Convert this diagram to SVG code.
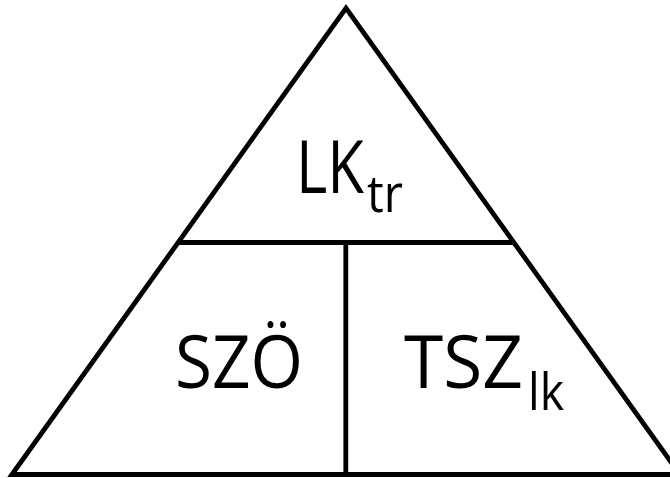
<svg xmlns="http://www.w3.org/2000/svg" width="670" height="478" viewBox="0 0 670 478">
<style>
.ln{fill:none;stroke:#000;stroke-width:4.8;stroke-linejoin:miter}
.t{font-family:"Open Sans","Noto Sans",sans-serif;fill:#000;font-weight:500}
.m{font-size:73px}
.s{font-size:51px}
</style>
<rect width="670" height="478" fill="#fff"/>
<g id="connectors">
<polygon class="ln" points="12,474.5 346,8 680,474.5"/>
<line class="ln" x1="178" y1="242.5" x2="514" y2="242.5"/>
<line class="ln" x1="345.8" y1="242.5" x2="345.8" y2="474.5"/>
</g>
<g id="top">
<text class="t m" x="296" y="193" textLength="68" lengthAdjust="spacingAndGlyphs">LK</text>
<text class="t s" x="367" y="212" textLength="36" lengthAdjust="spacingAndGlyphs">tr</text>
</g>
<g id="left">
<text class="t m" x="175" y="388" textLength="128" lengthAdjust="spacingAndGlyphs">SZÖ</text>
</g>
<g id="right">
<text class="t m" x="404" y="388" textLength="119" lengthAdjust="spacingAndGlyphs">TSZ</text>
<text class="t s" x="528" y="410" textLength="36" lengthAdjust="spacingAndGlyphs">lk</text>
</g>
</svg>
